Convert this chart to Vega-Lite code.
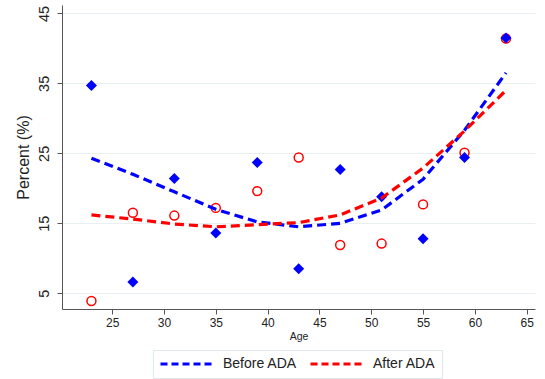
{
  "$schema": "https://vega.github.io/schema/vega-lite/v6.json",
  "autosize": {"type": "none"},
  "width": 473,
  "height": 304,
  "padding": {"left": 62, "top": 5, "right": 10, "bottom": 70},
  "background": "white",
  "config": {
    "view": {"stroke": null},
    "font": "Liberation Sans",
    "axis": {"domainColor": "#555", "tickColor": "#555", "labelColor": "#222", "titleColor": "#222", "titleFontWeight": "normal", "labelFont": "Liberation Sans", "titleFont": "Liberation Sans"},
    "legend": {"labelFont": "Liberation Sans", "labelColor": "#222"}
  },
  "data": {"values": [
    {"age": 23, "group": "Before ADA", "observed": 34.7, "fitted": 24.3},
    {"age": 27, "group": "Before ADA", "observed": 6.6, "fitted": 22.0},
    {"age": 31, "group": "Before ADA", "observed": 21.4, "fitted": 19.5},
    {"age": 35, "group": "Before ADA", "observed": 13.6, "fitted": 17.0},
    {"age": 39, "group": "Before ADA", "observed": 23.7, "fitted": 15.2},
    {"age": 43, "group": "Before ADA", "observed": 8.5, "fitted": 14.5},
    {"age": 47, "group": "Before ADA", "observed": 22.7, "fitted": 15.0},
    {"age": 51, "group": "Before ADA", "observed": 18.8, "fitted": 16.9},
    {"age": 55, "group": "Before ADA", "observed": 12.8, "fitted": 21.3},
    {"age": 59, "group": "Before ADA", "observed": 24.4, "fitted": 28.3},
    {"age": 63, "group": "Before ADA", "observed": 41.5, "fitted": 36.5},
    {"age": 23, "group": "After ADA", "observed": 3.9, "fitted": 16.2},
    {"age": 27, "group": "After ADA", "observed": 16.5, "fitted": 15.6},
    {"age": 31, "group": "After ADA", "observed": 16.1, "fitted": 14.9},
    {"age": 35, "group": "After ADA", "observed": 17.2, "fitted": 14.5},
    {"age": 39, "group": "After ADA", "observed": 19.6, "fitted": 14.8},
    {"age": 43, "group": "After ADA", "observed": 24.4, "fitted": 15.1},
    {"age": 47, "group": "After ADA", "observed": 11.9, "fitted": 16.2},
    {"age": 51, "group": "After ADA", "observed": 12.1, "fitted": 18.6},
    {"age": 55, "group": "After ADA", "observed": 17.7, "fitted": 22.9},
    {"age": 59, "group": "After ADA", "observed": 25.1, "fitted": 28.2},
    {"age": 63, "group": "After ADA", "observed": 41.4, "fitted": 34.0}
  ]},
  "encoding": {
    "x": {"field": "age", "type": "quantitative",
      "scale": {"domain": [20.16, 65.8], "nice": false, "zero": false},
      "axis": {"title": "Age", "values": [25, 30, 35, 40, 45, 50, 55, 60, 65], "grid": false, "labelFontSize": 12, "titleFontSize": 10.5, "tickSize": 5, "labelPadding": 3, "titlePadding": 3}}
  },
  "layer": [
    {
      "transform": [{"filter": "datum.group === 'After ADA'"}],
      "mark": {"type": "point", "shape": "circle", "filled": false, "color": "#ff0000", "size": 80, "strokeWidth": 1.5, "opacity": 1},
      "encoding": {
        "y": {"field": "observed", "type": "quantitative",
          "scale": {"domain": [2.75, 46.2], "nice": false, "zero": false},
          "axis": {"title": "Percent (%)", "values": [5, 15, 25, 35, 45], "grid": true, "gridColor": "#e8f0f1", "labelAngle": -90, "labelAlign": "center", "labelBaseline": "bottom", "labelFontSize": 14.5, "titleFontSize": 16, "tickSize": 5, "labelPadding": 6, "titlePadding": 5}}
      }
    },
    {
      "transform": [{"filter": "datum.group === 'Before ADA'"}],
      "mark": {"type": "point", "shape": "diamond", "filled": true, "color": "#0000ff", "size": 121, "opacity": 1},
      "encoding": {"y": {"field": "observed", "type": "quantitative"}}
    },
    {
      "mark": {"type": "line", "strokeWidth": 3.2, "strokeDash": [9, 5]},
      "encoding": {
        "y": {"field": "fitted", "type": "quantitative"},
        "color": {"field": "group", "type": "nominal",
          "scale": {"domain": ["Before ADA", "After ADA"], "range": ["#0000ff", "#ff0000"]},
          "legend": {"title": null, "orient": "none", "legendX": 91, "legendY": 345, "direction": "horizontal",
            "symbolType": "stroke", "symbolSize": 2601, "symbolStrokeWidth": 3, "symbolDash": [7, 4], "clipHeight": 16,
            "labelFontSize": 14, "labelOffset": 10, "columnPadding": 12, "padding": 6,
            "strokeColor": "#dfe8ea", "fillColor": "white"}}
      }
    }
  ]
}
